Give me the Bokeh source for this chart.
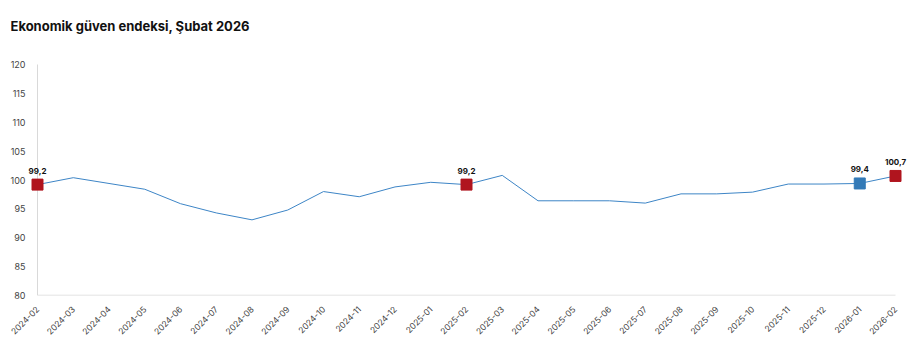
from bokeh.plotting import figure
from bokeh.models import Range1d, FixedTicker, ColumnDataSource, Label
from bokeh.core.properties import value
from bokeh.embed import file_html
from bokeh.resources import INLINE
import math

months = ["2024-02", "2024-03", "2024-04", "2024-05", "2024-06", "2024-07", "2024-08",
          "2024-09", "2024-10", "2024-11", "2024-12", "2025-01", "2025-02", "2025-03",
          "2025-04", "2025-05", "2025-06", "2025-07", "2025-08", "2025-09", "2025-10",
          "2025-11", "2025-12", "2026-01", "2026-02"]
index_values = [99.2, 100.4, 99.4, 98.4, 95.9, 94.3, 93.1, 94.8, 98.0, 97.1, 98.8, 99.6,
                99.2, 100.8, 96.4, 96.4, 96.4, 96.0, 97.6, 97.6, 97.9, 99.3, 99.3, 99.4, 100.7]
red_months = ["2024-02", "2025-02", "2026-02"]
blue_months = ["2026-01"]
y_ticks = [80, 85, 90, 95, 100, 105, 110, 115, 120]
title_text = "Ekonomik güven endeksi, Şubat 2026"

xs = list(range(len(months)))
font = "Inter"

# layout (pixels): frame spans x 10..908, y 5..295; first point at x=37, last at x=895,
# value 120 at y=64
px_per_step = (895 - 37) / (len(months) - 1)
px_per_unit = (295 - 64) / (y_ticks[-1] - y_ticks[0])
x_start = xs[0] - (37 - 10) / px_per_step
x_end = xs[-1] + (908 - 895) / px_per_step
y_end = y_ticks[-1] + (64 - 5) / px_per_unit

p = figure(width=921, height=343, output_backend="svg", toolbar_location=None,
           x_range=Range1d(x_start, x_end), y_range=Range1d(y_ticks[0], y_end),
           min_border_left=10, min_border_right=13, min_border_top=5, min_border_bottom=48)

# Label screen units are measured from the frame's bottom-left corner
title = Label(x=0, y=270, x_units="screen", y_units="screen", text=title_text,
              text_font=font, text_font_size="13px", text_font_style="bold",
              text_color="#111111", text_baseline="middle", text_align="left")
p.add_layout(title)

p.outline_line_color = None
p.xgrid.grid_line_color = None
p.ygrid.grid_line_color = None
p.background_fill_color = "white"
p.border_fill_color = "white"

p.xaxis.ticker = FixedTicker(ticks=xs)
p.xaxis.major_label_overrides = {i: m for i, m in enumerate(months)}
p.xaxis.major_label_orientation = math.pi / 4
p.yaxis.ticker = FixedTicker(ticks=y_ticks)
for ax in (p.xaxis, p.yaxis):
    ax.axis_line_color = None
    ax.major_tick_line_color = None
    ax.minor_tick_line_color = None
    ax.major_label_text_font = font
    ax.major_label_text_font_size = "8.5px"
    ax.major_label_text_color = "#444444"
p.yaxis.major_label_text_font_size = "9px"
p.yaxis.major_label_standoff = -21
p.xaxis.major_label_standoff = 6

# axis lines spanning the data extent
p.segment(x0=[xs[0]], y0=[y_ticks[0]], x1=[xs[0]], y1=[y_ticks[-1]], line_color="#d9d9d9", line_width=1)
p.segment(x0=[xs[0]], y0=[y_ticks[0]], x1=[xs[-1]], y1=[y_ticks[0]], line_color="#d9d9d9", line_width=1.5)

p.line(xs, index_values, line_color="#3d85c6", line_width=1)

def pts(sel):
    ix = [months.index(m) for m in sel]
    return ColumnDataSource(dict(x=ix, y=[index_values[i] for i in ix],
                                 t=[f"{index_values[i]:.1f}".replace(".", ",") for i in ix]))

red = pts(red_months)
blue = pts(blue_months)
p.scatter("x", "y", source=red, marker="square", size=11, fill_color="#b0141e", line_color="#b0141e")
p.scatter("x", "y", source=blue, marker="square", size=11, fill_color="#337ab7", line_color="#337ab7")
for src in (red, blue):
    p.text("x", "y", text="t", source=src, text_font=value(font), text_font_size="8px",
           text_font_style="bold", text_color="#111111", text_align="center",
           text_baseline="bottom", y_offset=-11)

open("out.html", "w").write(file_html(p, INLINE))
